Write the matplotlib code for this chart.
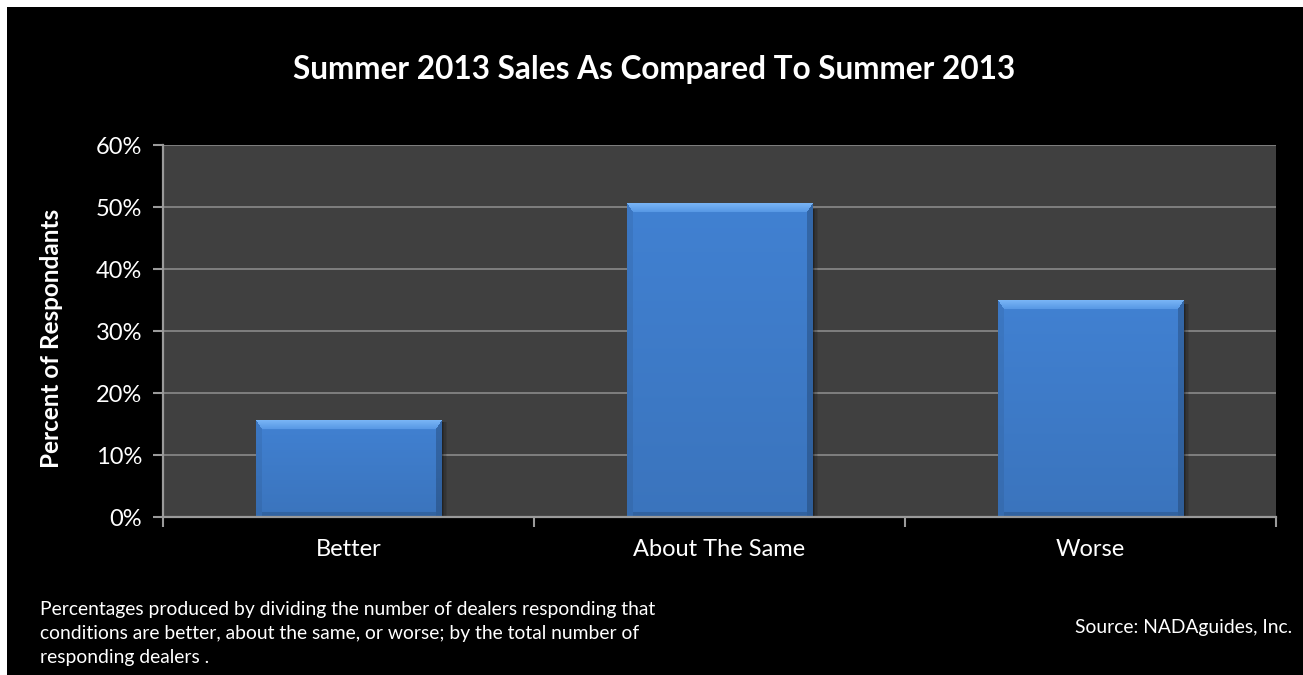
import matplotlib
matplotlib.use("Agg")
import matplotlib.pyplot as plt
import numpy as np
from matplotlib.patches import Rectangle
from matplotlib.ticker import FuncFormatter, FixedLocator

categories = ["Better", "About The Same", "Worse"]
values = [15.5, 50.5, 34.9]
y_ticks = [0, 10, 20, 30, 40, 50, 60]

title = "Summer 2013 Sales As Compared To Summer 2013"
ylabel = "Percent of Respondants"
footnote = ("Percentages produced by dividing the number of dealers responding that\n"
            "conditions are better, about the same, or worse; by the total number of\n"
            "responding dealers .")
source = "Source: NADAguides, Inc."

W, H = 1303, 675
fig = plt.figure(figsize=(W / 100, H / 100), dpi=100, facecolor="black")
fig.patches.append(Rectangle((0, 1 - 7 / H), 1, 7 / H, transform=fig.transFigure,
                             facecolor="white", edgecolor="none", zorder=-1))
fig.patches.append(Rectangle((0, 0), 7 / W, 1, transform=fig.transFigure,
                             facecolor="white", edgecolor="none", zorder=-1))

FONT = "Lato"
ax = fig.add_axes([163 / W, 1 - 517 / H, (1276 - 163) / W, (517 - 145) / H])
ax.set_zorder(2)
ax.set_facecolor("#404040")
ax.set_xlim(-0.5, len(categories) - 0.5)
ax.set_ylim(0, 60)

x = np.arange(len(categories))
bars = ax.bar(x, values, width=0.5, color="#4080d0", zorder=3, linewidth=0)

fig.canvas.draw()
for b in bars:
    x0, y0 = b.get_x(), b.get_y()
    w, h = b.get_width(), b.get_height()
    p0 = ax.transData.transform((x0, y0))
    p1 = ax.transData.transform((x0 + w, y0 + h))
    pw, ph = int(round(p1[0] - p0[0])), int(round(p1[1] - p0[1]))
    base = np.array([65, 129, 210]) / 255
    yy, xx = np.mgrid[0:ph, 0:pw]
    t = yy / max(ph - 1, 1)
    img = base[None, None, :] * (1.0 - 0.10 * t[..., None])
    bev, side = 9, 6
    dtop, dleft, dright, dbot = yy, xx, pw - 1 - xx, ph - 1 - yy
    top_m = (dtop < bev) & (dtop <= dleft * bev / side) & (dtop <= dright * bev / side)
    left_m = (dleft < side) & ~top_m
    right_m = (dright < side) & ~top_m
    bot_m = (dbot < 5) & ~left_m & ~right_m
    tt = (dtop / bev)[..., None]
    top_col = (np.array([120, 180, 245]) / 255) * (1 - tt) + (np.array([85, 150, 228]) / 255) * tt
    img = np.where(top_m[..., None], top_col, img)
    img[left_m] = img[left_m] * 0.93
    img[right_m] = img[right_m] * 0.80
    img[bot_m] = img[bot_m] * 0.85
    ax.imshow(img, extent=(x0, x0 + w, y0, y0 + h), aspect="auto", zorder=4,
              interpolation="bilinear")
    for k, a in enumerate([0.45, 0.3, 0.18, 0.08]):
        ax.add_patch(Rectangle((x0 + w + k * w * 0.008, y0), w * 0.008, h * 0.985,
                               facecolor="black", alpha=a, edgecolor="none", zorder=2.5))
ax.set_xlim(-0.5, len(categories) - 0.5)
ax.set_ylim(0, 60)

ax.yaxis.set_major_locator(FixedLocator(y_ticks))
ax.yaxis.set_major_formatter(FuncFormatter(lambda v, p: f"{int(v)}%"))
ax.grid(axis="y", color="#8a8a8a", linewidth=1.2, zorder=1)
ax.set_axisbelow(True)

ax.set_xticks(x)
ax.set_xticklabels(categories)
ax.set_xticks(np.arange(-0.5, len(categories)), minor=True)
ax.tick_params(axis="x", which="major", length=0, pad=16, labelsize=17, labelcolor="white")
ax.tick_params(axis="x", which="minor", length=7, width=1.5, color="#9a9a9a", direction="out")
ax.tick_params(axis="y", length=7, width=1.5, color="#9a9a9a", direction="out", pad=8,
               labelsize=17, labelcolor="white")
for lab in ax.get_xticklabels() + ax.get_yticklabels():
    lab.set_fontfamily(FONT)

for s in ["top", "right"]:
    ax.spines[s].set_visible(False)
for s in ["left", "bottom"]:
    ax.spines[s].set_color("#9a9a9a")
    ax.spines[s].set_linewidth(1.6)
    ax.spines[s].set_zorder(5)

fig.text(0.5 + 3 / W, 1 - 69 / H, title, ha="center", va="center", color="white",
         fontsize=22.7, fontweight="bold", family=FONT)
fig.text(52 / W, 1 - 338 / H, ylabel, ha="center", va="center", rotation=90, color="white",
         fontsize=17.5, fontweight="bold", family=FONT)
fig.text(40 / W, 1 - 601 / H, footnote, ha="left", va="top", color="white",
         fontsize=13.9, family=FONT, linespacing=1.5)
fig.text(1292 / W, 1 - 627 / H, source, ha="right", va="center", color="white",
         fontsize=13.9, family=FONT)

fig.savefig("out.png", dpi=100, facecolor=fig.get_facecolor())
